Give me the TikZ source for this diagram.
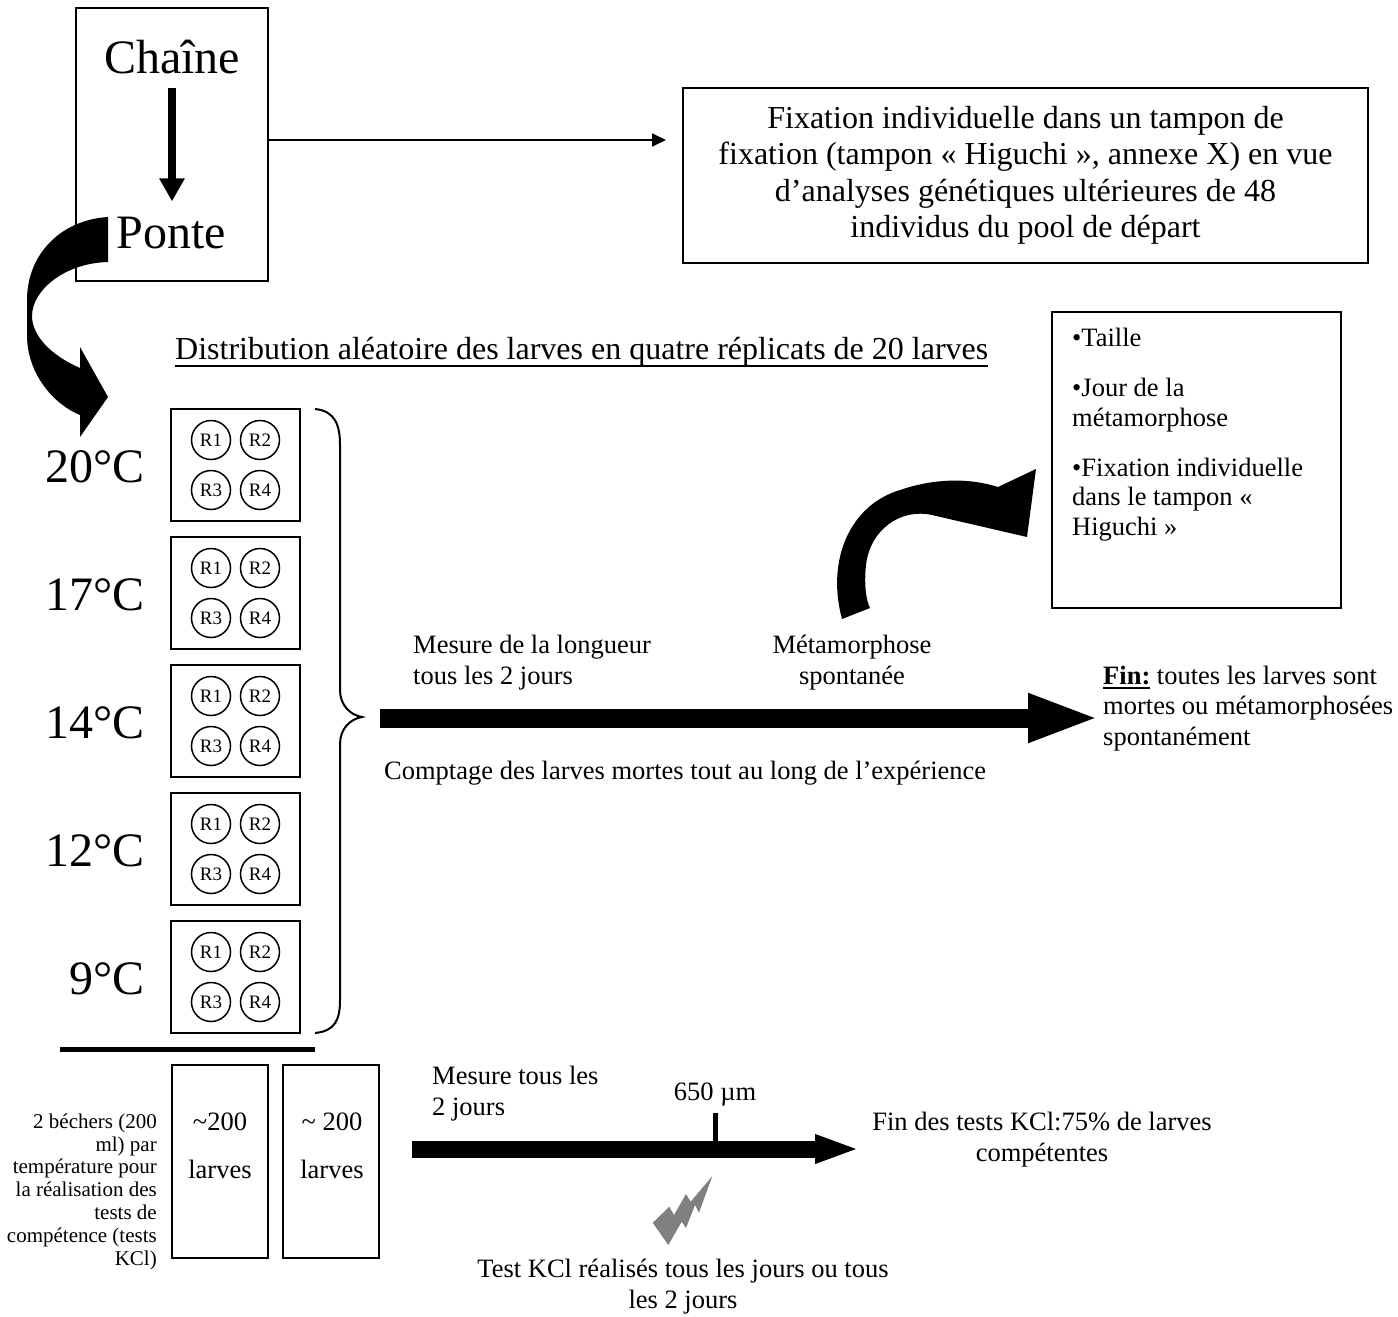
\documentclass[tikz,border=0pt]{standalone}
\usepackage{fontspec}
\setmainfont{Liberation Serif}
\usetikzlibrary{arrows.meta,calc}
\newcommand\myul[1]{\setbox0\hbox{#1}\leavevmode\rlap{\vrule height -3pt depth 5pt width \wd0}\box0\relax}
\begin{document}
\begin{tikzpicture}[x=1pt,y=-1pt,
  box/.style={draw, line width=1.8pt, inner sep=0pt},
  txt/.style={inner sep=0pt, font=\fontsize{26.5}{30.5}\selectfont},
  big/.style={inner sep=0pt, font=\fontsize{48}{55}\selectfont},
  rc/.style={draw, circle, line width=1.5pt, minimum size=39pt, inner sep=0pt, font=\fontsize{19}{22}\selectfont}]
\useasboundingbox (0,0) rectangle (1398,1317);

% ---- top: Chaine / Ponte
\node[box, minimum width=192pt, minimum height=273pt] (chainebox) at (172,144.5) {};
\node[big, anchor=base] (chaine) at (172,73) {Chaîne};
\node[big, anchor=base] (ponte) at (171,248) {Ponte};
\draw[line width=8pt, -{Triangle[length=23pt,width=24pt]}, shorten <=14pt, shorten >=15pt]
  (chaine.south) -- (chaine.south |- ponte.north);

% ---- fixation box
\node[box, minimum width=685pt, minimum height=175pt, align=center,
  font=\fontsize{32}{36.5}\selectfont] (fixbox) at (1025.5,175.5)
  {Fixation individuelle dans un tampon de\\ fixation (tampon « Higuchi », annexe X) en vue\\ d’analyses génétiques ultérieures de 48\\ individus du pool de départ};
\coordinate (fixtip) at (666,140);
\draw[line width=1.8pt, -{Triangle[length=14pt,width=13pt]}] (chainebox.east |- fixtip) -- (fixtip);

% ---- big curved arrow (Ponte -> plates)
\fill (108,217) .. controls (60,220) and (27,255) .. (27,300) -- (27,335)
  .. controls (27,375) and (55,405) .. (80,415) -- (80,437) -- (108,397) -- (80,347) -- (80,368)
  .. controls (50,355) and (32,335) .. (32,316) .. controls (32,290) and (65,263) .. (108,262) -- cycle;

% ---- distribution title
\node[inner sep=0pt, font=\fontsize{32}{36}\selectfont, anchor=base west] (distrib) at (175,359)
  {Distribution aléatoire des larves en quatre réplicats de 20 larves};
\draw[line width=2pt] ($(distrib.base west)+(0,7)$) -- ($(distrib.base east)+(0,7)$);

% ---- plates
\foreach \i/\t/\y in {1/20/409,2/17/537,3/14/665,4/12/793,5/9/921}{
  \node[box, minimum width=129pt, minimum height=112pt] (plate\i) at (235.5,\y+56) {};
  \node[big, anchor=base east] (temp\i) at (145,\y+73) {\t°C};
  \node[rc] (r\i-1) at (211,\y+31) {R1};
  \node[rc] (r\i-2) at (260,\y+31) {R2};
  \node[rc] (r\i-3) at (211,\y+81) {R3};
  \node[rc] (r\i-4) at (260,\y+81) {R4};
}

% ---- brace
\draw[line width=2pt] (315,409) .. controls (335,411) and (340,425) .. (340,445) -- (340,690)
  .. controls (340,705) and (350,715) .. (362,717) .. controls (350,719) and (340,729) .. (340,744)
  -- (340,1000) .. controls (340,1020) and (335,1031) .. (315,1033);
\coordinate (bracetip) at (362,718);
\coordinate (endtip) at (1100,718);
\draw[line width=19pt, -{Triangle[length=72pt,width=44pt]}, shorten <=18pt] (bracetip) -- (endtip);

\node[txt, anchor=base west, align=left] (mesure1) at (413,684) {Mesure de la longueur\\tous les 2 jours};
\node[txt, anchor=base, align=center] (metam) at (852,684) {Métamorphose\\spontanée};
\node[txt, anchor=base west] (comptage) at (384,779) {Comptage des larves mortes tout au long de l’expérience};
\node[txt, anchor=base west, align=left] (fin) at (1103,745)
  {\myul{\textbf{Fin:}} toutes les larves sont\\mortes ou métamorphosées\\spontanément};

% ---- right box
\node[box, minimum width=289pt, minimum height=296pt] (metabox) at (1196.5,460) {};
\node[inner sep=0pt, font=\fontsize{26.5}{29.5}\selectfont, anchor=base west, align=left] (metatext) at (1072,535)
  {•Taille\\[20.5pt]•Jour de la\\métamorphose\\[20.5pt]•Fixation individuelle\\dans le tampon «\\Higuchi »};

% ---- curved arrow to right box
\fill (842,619) .. controls (826,560) and (850,505) .. (900,490) .. controls (935,478) and (970,478) .. (998,487)
  -- (1036,469) -- (1027,537) -- (932,515)
  .. controls (900,508) and (870,530) .. (866,565) .. controls (864,585) and (866,600) .. (870,608) -- cycle;

% ---- bottom part
\draw[line width=5.5pt] (60,1049.5) -- (315,1049.5);
\node[box, minimum width=96pt, minimum height=193pt] (beaker1) at (220,1161.5) {};
\node[box, minimum width=96pt, minimum height=193pt] (beaker2) at (331,1161.5) {};
\node[txt, anchor=base, align=center] (b1text) at (220,1178) {\textasciitilde200\\[17.5pt]larves};
\node[txt, anchor=base, align=center] (b2text) at (332,1178) {\textasciitilde{} 200\\[17.5pt]larves};
\node[inner sep=0pt, font=\fontsize{21}{22.8}\selectfont, anchor=base east, align=right] (bktext) at (157,1265)
  {2 béchers (200\\ml) par\\température pour\\la réalisation des\\tests de\\compétence (tests\\KCl)};

\coordinate (klstart) at (412,1149);
\coordinate (klend) at (860,1149);
\draw[line width=17pt, -{Triangle[length=45pt,width=26pt]}] (klstart) -- (klend);
\coordinate (tick) at (715,1113);
\draw[line width=5pt] (tick) -- (tick |- klend);
\node[txt, anchor=base] (mu) at (715,1100) {650 µm};
\node[txt, anchor=base west, align=left] (mesure2) at (432,1115) {Mesure tous les\\2 jours};
\node[txt, anchor=base, align=center] (fintests) at (1042,1161) {Fin des tests KCl:75\% de larves\\compétentes};
\fill[gray] (712.3,1176) -- (699,1212.7) -- (695,1205) -- (686,1228) -- (681.7,1221.7) -- (668.3,1245)
  -- (652.7,1222.7) -- (669.3,1206.7) -- (674,1215) -- (686,1194) -- (690.7,1201.7) -- cycle;
\node[txt, anchor=base, align=center] (testkcl) at (683,1308) {Test KCl réalisés tous les jours ou tous\\les 2 jours};
\end{tikzpicture}
\end{document}
